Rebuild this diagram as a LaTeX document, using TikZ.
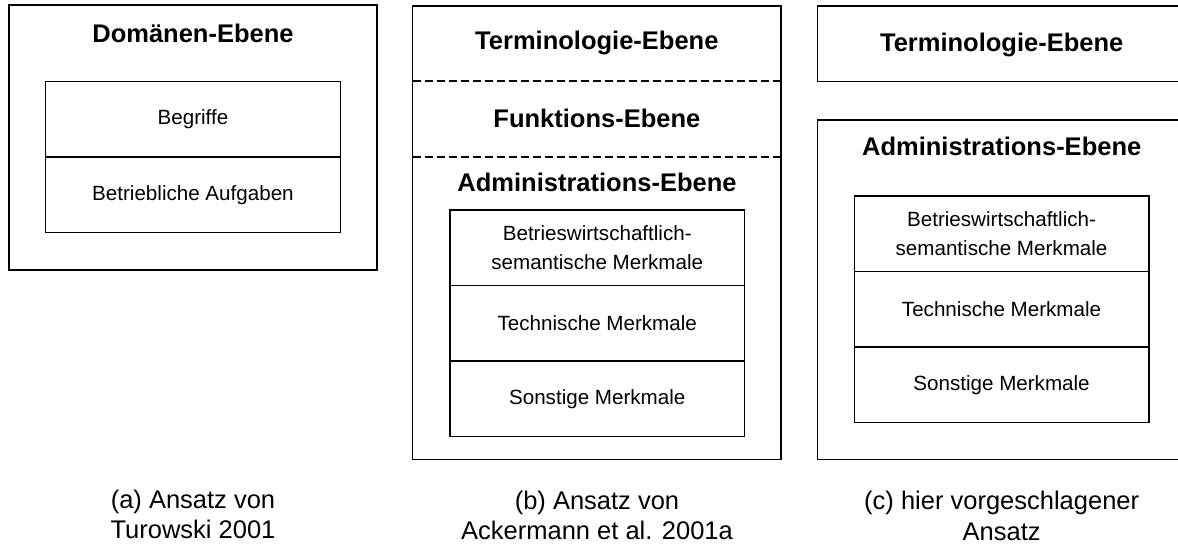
\documentclass[tikz,border=0pt]{standalone}
\usepackage{fontspec}
\setmainfont{Liberation Sans}
\usetikzlibrary{positioning, calc}

\begin{document}
\begin{tikzpicture}[x=1pt, y=-1pt,
    frame/.style={draw, line width=1.4pt, inner sep=0pt, outer sep=0pt, anchor=north west},
    cell/.style={draw, line width=1.4pt, inner sep=0pt, outer sep=0pt, align=center,
                 minimum width=294.5pt, minimum height=75.5pt, font=\fontsize{20.6}{28.5}\selectfont},
    band/.style={inner sep=0pt, outer sep=0pt, anchor=north west, font=\fontsize{25.5}{30}\selectfont\bfseries},
    title/.style={font=\fontsize{25.5}{30}\selectfont\bfseries},
    caption/.style={align=center, font=\fontsize{25.5}{30.5}\selectfont}]

    % Page size, box (c) runs off the right edge
    \useasboundingbox (0,0) rectangle (1178,545);
    \clip (0,0) rectangle (1178,545);

    % (a) Turowski
    \node[frame, minimum width=368pt, minimum height=265pt] (outerA) at (9,5) {};
    \node[title] (titleA) at (193,33) {Domänen-Ebene};
    \node[cell, anchor=north west] (begriffe) at (45.7,81.7) {Begriffe};
    \node[cell, below=0pt of begriffe] (aufgaben) {Betriebliche Aufgaben};

    % (b) Ackermann et al.
    \node[frame, minimum width=368.3pt, minimum height=453.3pt] (outerB) at (412.7,6) {};
    \node[band, minimum width=368.3pt, minimum height=74.7pt] (termB) at (412.7,6) {Terminologie-Ebene};
    \node[band, minimum width=368.3pt, minimum height=76pt] (funcB) at (412.7,80.7) {Funktions-Ebene};
    \draw[line width=1.8pt, dash pattern=on 8pt off 4pt] (termB.south west) -- (termB.south east);
    \draw[line width=1.8pt, dash pattern=on 8pt off 4pt] (funcB.south west) -- (funcB.south east);
    \node[title] (adminB) at (597,182.7) {Administrations-Ebene};
    \node[cell, anchor=north west] (bwB) at (450,210) {Betrieswirtschaftlich-\\semantische Merkmale};
    \node[cell, below=0pt of bwB] (techB) {Technische Merkmale};
    \node[cell, below=0pt of techB] (sonstB) {Sonstige Merkmale};

    % (c) hier vorgeschlagen
    \node[frame, minimum width=364.7pt, minimum height=75.7pt] (termC) at (817.3,6) {};
    \node[title] at (1001.7,45) {Terminologie-Ebene};
    \node[frame, minimum width=364.7pt, minimum height=339.3pt] (outerC) at (817.3,120) {};
    \node[title] (adminC) at (1001.7,146.7) {Administrations-Ebene};
    \node[cell, anchor=north west] (bwC) at (854.3,196) {Betrieswirtschaftlich-\\semantische Merkmale};
    \node[cell, below=0pt of bwC] (techC) {Technische Merkmale};
    \node[cell, below=0pt of techC] (sonstC) {Sonstige Merkmale};

    % Captions
    \node[caption] (capA) at (193,514.5) {(a) Ansatz von\\Turowski 2001};
    \node[caption] (capB) at (597,515.5) {(b) Ansatz von\\Ackermann et al. 2001a};
    \node[caption] (capC) at (1001.7,516) {(c) hier vorgeschlagener\\Ansatz};
\end{tikzpicture}
\end{document}
